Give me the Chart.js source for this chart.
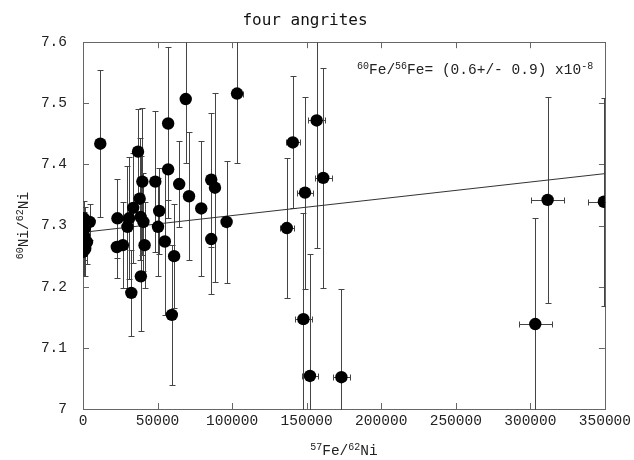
<!DOCTYPE html>
<html><head><meta charset="utf-8">
<script src="https://cdn.jsdelivr.net/npm/chart.js@4/dist/chart.umd.min.js"></script>
<style>html,body{margin:0;padding:0;background:#fff}</style>
</head><body>
<canvas id="c" width="634" height="460"></canvas>
<script>
// ---- data ----
const titleText = 'four angrites';
const xTickValues = [0, 50000, 100000, 150000, 200000, 250000, 300000, 350000];
const xTickLabels = ['0', '50000', '100000', '150000', '200000', '250000', '300000', '350000'];
const yTickValues = [7, 7.1, 7.2, 7.3, 7.4, 7.5, 7.6];
const yTickLabels = ['7', '7.1', '7.2', '7.3', '7.4', '7.5', '7.6'];

// 57Fe/62Ni
const fe57ni62 = [
  500, 4500, 1300, 700, 2700, 400, 0, 1500,
  11600, 23100, 22700, 26700, 29800, 30900, 32400, 33700, 36900, 38000, 38700, 38800, 39800, 40500, 41300,
  48500, 50300, 51100, 54900, 57100, 57100, 59600, 61100, 64500, 68900, 71100, 79300, 86000, 86000, 88500, 96300, 103300,
  136700, 140700, 147800, 148900, 152200, 156700, 161100, 173300,
  303300, 311600, 349300
];
// 60Ni/62Ni
const ni60ni62 = [
  7.312, 7.306, 7.296, 7.283, 7.273, 7.268, 7.257, 7.262,
  7.434, 7.312, 7.265, 7.268, 7.298, 7.312, 7.190, 7.329, 7.421, 7.344, 7.314, 7.217, 7.372, 7.306, 7.268,
  7.372, 7.298, 7.324, 7.274, 7.467, 7.392, 7.154, 7.250, 7.368, 7.507, 7.348, 7.328, 7.375, 7.278, 7.362, 7.306, 7.516,
  7.296, 7.436, 7.147, 7.354, 7.054, 7.472, 7.378, 7.052,
  7.139, 7.342, 7.339
];
// 60Ni/62Ni uncertainty (+/-)
const ni60Err = [
  0.028, 0.030, 0.035, 0.040, 0.035, 0.050, 0.040, 0.045,
  0.120, 0.065, 0.050, 0.070, 0.100, 0.100, 0.070, 0.090, 0.070, 0.100, 0.100, 0.090, 0.120, 0.080, 0.070,
  0.115, 0.080, 0.070, 0.120, 0.125, 0.080, 0.115, 0.085, 0.070, 0.105, 0.105, 0.110, 0.110, 0.090, 0.155, 0.100, 0.113,
  0.115, 0.108, 0.173, 0.157, 0.200, 0.208, 0.180, 0.145,
  0.174, 0.168, 0.170
];
// 57Fe/62Ni uncertainty (+/-)
const fe57Err = [
  0, 0, 0, 0, 0, 0, 0, 0,
  0, 0, 0, 0, 0, 0, 0, 0, 0, 0, 0, 0, 0, 0, 0,
  0, 0, 0, 0, 0, 0, 0, 0, 0, 0, 0, 0, 0, 0, 0, 0, 3700,
  4900, 4800, 5600, 5300, 5300, 5800, 5800, 5900,
  11100, 11300, 10500
];
// isochron fit end points
const fitX = [0, 350000];
const fitY = [7.289, 7.385];

// annotation pieces: [text, isSuperscript]
const noteParts = [['60', true], ['Fe/', false], ['56', true], ['Fe= (0.6+/- 0.9) x10', false], ['-8', true]];
const xTitleParts = [['57', true], ['Fe/', false], ['62', true], ['Ni', false]];
const yTitleParts = [['60', true], ['Ni/', false], ['62', true], ['Ni', false]];

// ---- rendering ----
const FONT = '"Liberation Mono", "DejaVu Sans Mono", monospace';
const TXT = '#222';
const FRAME = '#666';

function drawParts(ctx, parts, x, y, align) {
  const norm = '14.5px ' + FONT, sup = '10px ' + FONT;
  let w = 0;
  parts.forEach(p => { ctx.font = p[1] ? sup : norm; w += ctx.measureText(p[0]).width; });
  let cx = align === 'center' ? x - w / 2 : x;
  ctx.textBaseline = 'alphabetic';
  ctx.textAlign = 'left';
  parts.forEach(p => {
    ctx.font = p[1] ? sup : norm;
    ctx.fillText(p[0], cx, p[1] ? y - 5 : y);
    cx += ctx.measureText(p[0]).width;
  });
}

const decorPlugin = {
  id: 'decor',
  beforeDatasetsDraw(chart) {
    const {ctx, chartArea: a, scales: {x, y}} = chart;
    ctx.save();
    // frame
    ctx.strokeStyle = FRAME; ctx.lineWidth = 1;
    ctx.strokeRect(Math.round(a.left) + 0.5, Math.round(a.top) + 0.5, Math.round(a.right - a.left), Math.round(a.bottom - a.top));
    // inward ticks
    ctx.beginPath();
    xTickValues.forEach(v => {
      const px = Math.round(x.getPixelForValue(v)) + 0.5;
      ctx.moveTo(px, a.bottom); ctx.lineTo(px, a.bottom - 6);
      ctx.moveTo(px, a.top); ctx.lineTo(px, a.top + 6);
    });
    yTickValues.forEach(v => {
      const py = Math.round(y.getPixelForValue(v)) + 0.5;
      ctx.moveTo(a.left, py); ctx.lineTo(a.left + 6, py);
      ctx.moveTo(a.right, py); ctx.lineTo(a.right - 6, py);
    });
    ctx.stroke();
    // error bars
    ctx.beginPath();
    ctx.rect(a.left, a.top, a.right - a.left + 1, a.bottom - a.top + 1);
    ctx.clip();
    ctx.strokeStyle = '#444';
    ctx.beginPath();
    const cap = 3;
    fe57ni62.forEach((xv, i) => {
      const yv = ni60ni62[i];
      const px = Math.round(x.getPixelForValue(xv)) + 0.5;
      const py = Math.round(y.getPixelForValue(yv)) + 0.5;
      const e = ni60Err[i];
      if (e > 0) {
        const t = Math.round(y.getPixelForValue(yv + e)) + 0.5;
        const b = Math.round(y.getPixelForValue(yv - e)) + 0.5;
        ctx.moveTo(px, t); ctx.lineTo(px, b);
        ctx.moveTo(px - cap, t); ctx.lineTo(px + cap, t);
        ctx.moveTo(px - cap, b); ctx.lineTo(px + cap, b);
      }
      const h = fe57Err[i];
      if (h > 0) {
        const l = Math.round(x.getPixelForValue(xv - h)) + 0.5;
        const r = Math.round(x.getPixelForValue(xv + h)) + 0.5;
        ctx.moveTo(l, py); ctx.lineTo(r, py);
        ctx.moveTo(l, py - cap); ctx.lineTo(l, py + cap);
        ctx.moveTo(r, py - cap); ctx.lineTo(r, py + cap);
      }
    });
    ctx.stroke();
    ctx.restore();
  },
  afterDraw(chart) {
    const {ctx, chartArea: a} = chart;
    ctx.save();
    ctx.fillStyle = TXT;
    // annotation
    drawParts(ctx, noteParts, a.left + 274, 74, 'left');
    // x axis title
    drawParts(ctx, xTitleParts, (a.left + a.right) / 2, 455, 'center');
    // y axis title (rotated)
    ctx.translate(28, (a.top + a.bottom) / 2);
    ctx.rotate(-Math.PI / 2);
    drawParts(ctx, yTitleParts, 0, 0, 'center');
    ctx.restore();
  }
};

new Chart(document.getElementById('c'), {
  type: 'scatter',
  data: {
    datasets: [
      {
        type: 'line',
        label: 'fit',
        data: fitX.map((v, i) => ({x: v, y: fitY[i]})),
        borderColor: '#333', borderWidth: 1, pointRadius: 0, fill: false, order: 2
      },
      {
        label: 'four angrites',
        data: fe57ni62.map((v, i) => ({x: v, y: ni60ni62[i]})),
        backgroundColor: '#000', borderColor: '#000', borderWidth: 0,
        pointRadius: 6.2, pointHoverRadius: 6.2, order: 1
      }
    ]
  },
  options: {
    responsive: false,
    devicePixelRatio: 1,
    animation: false,
    layout: {padding: {left: 0, right: 24, top: 0, bottom: 0}},
    plugins: {
      legend: {display: false},
      tooltip: {enabled: false},
      title: {
        display: true, text: titleText, color: '#111',
        font: {family: '"DejaVu Sans Mono", monospace', size: 16, weight: 'normal', lineHeight: 1.2},
        padding: {top: 11, bottom: 12}
      }
    },
    scales: {
      x: {
        type: 'linear', min: 0, max: 350000,
        afterBuildTicks: s => { s.ticks = xTickValues.map(v => ({value: v})); },
        afterFit: s => { s.height = 51; },
        grid: {display: false, drawTicks: false},
        border: {display: false},
        ticks: {
          callback: (v, i) => xTickLabels[i], autoSkip: false, maxRotation: 0,
          color: TXT, font: {family: FONT, size: 14.5}, padding: 3
        }
      },
      y: {
        type: 'linear', min: 7, max: 7.6,
        afterBuildTicks: s => { s.ticks = yTickValues.map(v => ({value: v})); },
        afterFit: s => { s.width = 83; },
        grid: {display: false, drawTicks: false},
        border: {display: false},
        ticks: {
          callback: (v, i) => yTickLabels[i], autoSkip: false,
          color: TXT, font: {family: FONT, size: 14.5}, padding: 16
        }
      }
    }
  },
  plugins: [decorPlugin]
});
</script>
</body></html>
